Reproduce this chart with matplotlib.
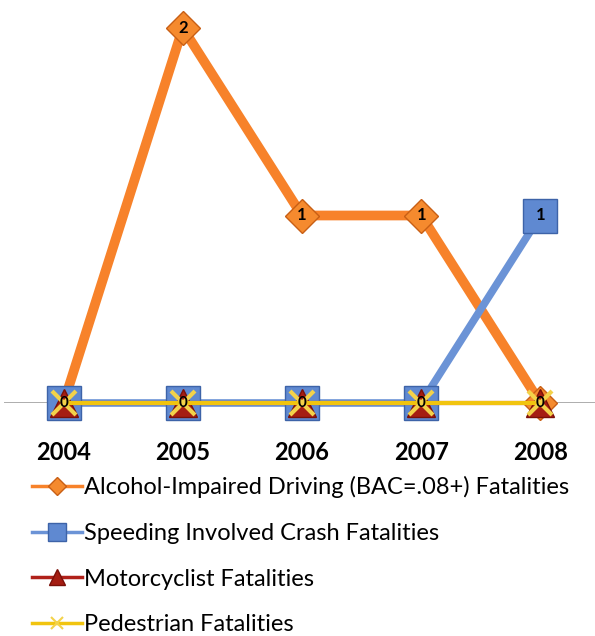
import matplotlib.pyplot as plt
from matplotlib.lines import Line2D

years = ["2004", "2005", "2006", "2007", "2008"]
alcohol = [0, 2, 1, 1, 0]
speeding = [0, 0, 0, 0, 1]
motorcycle = [0, 0, 0, 0, 0]
pedestrian = [0, 0, 0, 0, 0]

series_names = [
    "Alcohol-Impaired Driving (BAC=.08+) Fatalities",
    "Speeding Involved Crash Fatalities",
    "Motorcyclist Fatalities",
    "Pedestrian Fatalities",
]

plt.rcParams["font.family"] = ["Lato", "DejaVu Sans"]

fig = plt.figure(figsize=(5.95, 6.36), dpi=100)
# zero line at y=403 px, value 2 at y=28 px
ax = fig.add_axes([4 / 595, 233 / 636, 596 / 595, 2.1 * 187.5 / 636])
ax.set_xlim(-0.5, 4.5)
ax.set_ylim(0, 2.1)

x = list(range(len(years)))

styles = [
    dict(color="#f7822a", lw=7, marker="D", ms=17, mfc="#f58a2e", mec="#c85f15", mew=1),
    dict(color="#6b93d6", lw=5.5, marker="s", ms=24, mfc="#5f89d1", mec="#3d63a8", mew=1),
    dict(color="#b0211a", lw=3, marker="^", ms=20, mfc="#a51d12", mec="#7a1008", mew=1),
    dict(color="#f1c40f", lw=3, marker="x", ms=17, mec="#f3d24a", mew=3),
]
data = [alcohol, speeding, motorcycle, pedestrian]

for i, (vals, st) in enumerate(zip(data, styles)):
    ax.plot(x, vals, zorder=3 + i, clip_on=False, **st)

# data labels: non-zero values on their series, zeros on top
for vals in data:
    for xi, v in zip(x, vals):
        if v != 0:
            ax.text(xi, v, str(v), ha="center", va="center", fontsize=12,
                    fontweight="bold", color="black", zorder=10)
for xi in x:
    ax.text(xi, 0, "0", ha="center", va="center", fontsize=11,
            fontweight="bold", color="black", zorder=10)

ax.axhline(0, color="#a0a0a0", lw=1.2, zorder=1)
for s in ax.spines.values():
    s.set_visible(False)
ax.set_yticks([])
ax.set_xticks(x)
ax.set_xticklabels(years, fontsize=17, fontweight="bold")
ax.tick_params(axis="x", length=0, pad=27)

handles = []
for st in styles:
    h = dict(st)
    h["ms"] = h["ms"] * 0.55
    h["lw"] = 2.5
    if h["marker"] == "x":
        h["mew"] = 1.5
    handles.append(Line2D([0], [0], **h))

fig.legend(handles, series_names, loc="upper left", bbox_to_anchor=(32 / 595, 1 - 476 / 636),
           frameon=False, fontsize=17, handlelength=2.1, handletextpad=0.12,
           labelspacing=1.05, borderaxespad=0, borderpad=0)

fig.savefig("out.png", dpi=100)
